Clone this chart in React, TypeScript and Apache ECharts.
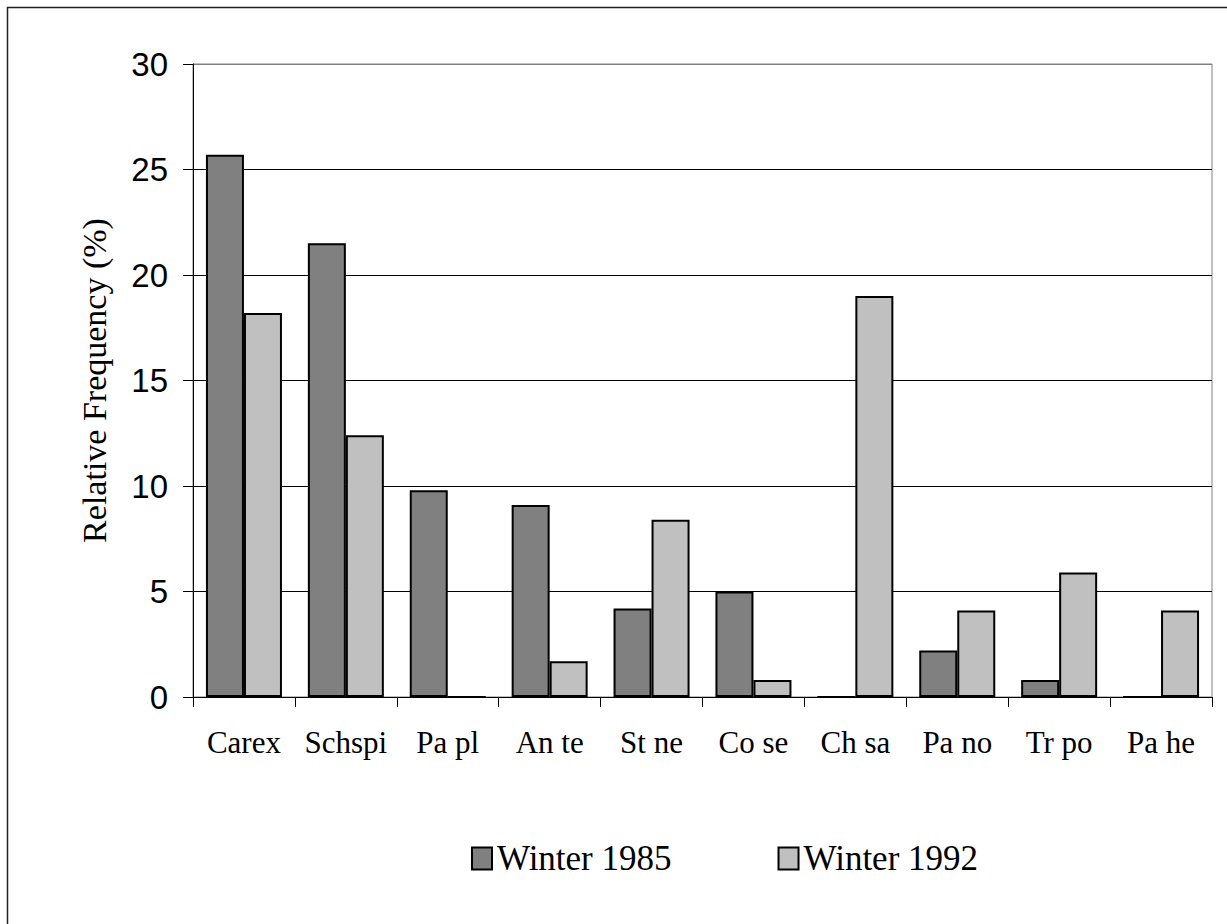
import React, { useEffect, useRef } from "react";
import * as echarts from "echarts";

const categories = ["Carex", "Schspi", "Pa pl", "An te", "St ne", "Co se", "Ch sa", "Pa no", "Tr po", "Pa he"];
const winter1985 = [25.7, 21.5, 9.8, 9.1, 4.2, 5.0, 0, 2.2, 0.8, 0];
const winter1992 = [18.2, 12.4, 0, 1.7, 8.4, 0.8, 19.0, 4.1, 5.9, 4.1];
const seriesNames = ["Winter 1985", "Winter 1992"];
const yTicks = { min: 0, max: 30, interval: 5 };
const yAxisTitle = "Relative Frequency (%)";

const SERIF = "'Liberation Serif', 'Times New Roman', serif";
const SANS = "'Liberation Sans', Arial, sans-serif";

export default function App() {
  const ref = useRef<HTMLDivElement>(null);
  useEffect(() => {
    document.body.style.margin = "0";
    if (!ref.current) return;
    const chart = echarts.init(ref.current, null, { renderer: "svg" });
    chart.setOption({
      animation: false,
      backgroundColor: "#fff",
      graphic: [
        {
          type: "rect",
          shape: { x: 7.5, y: 7.5, width: 1300, height: 1000 },
          style: { fill: "none", stroke: "#222", lineWidth: 1.5 },
          silent: true,
        },
      ],
      grid: {
        left: 193,
        top: 64,
        right: 15,
        bottom: 227,
        show: true,
        borderColor: "#808080",
        borderWidth: 1,
        backgroundColor: "transparent",
      },
      legend: {
        data: seriesNames,
        left: 466,
        top: 836,
        itemWidth: 20,
        itemHeight: 22,
        itemGap: 106,
        icon: "rect",
        itemStyle: { borderColor: "#000", borderWidth: 2 },
        textStyle: { fontFamily: SERIF, fontSize: 35, color: "#000" },
      },
      xAxis: {
        type: "category",
        data: categories,
        boundaryGap: true,
        axisLine: { lineStyle: { color: "#000", width: 1 } },
        axisTick: { show: true, length: 10, lineStyle: { color: "#000" } },
        axisLabel: { fontFamily: SERIF, fontSize: 31, color: "#000", margin: 30, interval: 0 },
        splitLine: { show: false },
      },
      yAxis: {
        type: "value",
        min: yTicks.min,
        max: yTicks.max,
        interval: yTicks.interval,
        name: yAxisTitle,
        nameLocation: "middle",
        nameGap: 82,
        nameTextStyle: { fontFamily: SERIF, fontSize: 34, color: "#000" },
        axisLine: { show: true, lineStyle: { color: "#000", width: 1 } },
        axisTick: { show: true, length: 10, inside: false, lineStyle: { color: "#000" } },
        axisLabel: { fontFamily: SANS, fontSize: 33, color: "#000", margin: 25 },
        splitLine: {
          show: true,
          lineStyle: { color: ["#000", "#000", "#000", "#000", "#000", "#000", "#808080"], width: 1 },
        },
      },
      series: [
        {
          name: seriesNames[0],
          type: "bar",
          data: winter1985,
          barWidth: 38,
          barGap: "0%",
          itemStyle: { color: "#808080", borderColor: "#000", borderWidth: 2 },
        },
        {
          name: seriesNames[1],
          type: "bar",
          data: winter1992,
          barWidth: 38,
          barGap: "0%",
          itemStyle: { color: "#C0C0C0", borderColor: "#000", borderWidth: 2 },
        },
      ],
    });
    return () => chart.dispose();
  }, []);
  return <div ref={ref} style={{ width: 1227, height: 924 }} />;
}
